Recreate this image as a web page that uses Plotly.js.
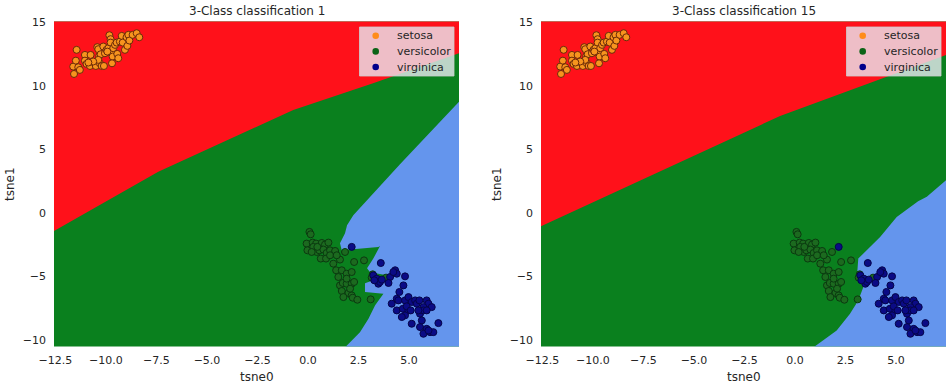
<!DOCTYPE html>
<html>
<head>
<meta charset="utf-8">
<script src="https://cdn.plot.ly/plotly-3.0.1.min.js"></script>
<style>html,body{margin:0;padding:0;background:#fff;}#chart{width:949px;height:389px;}</style>
</head>
<body>
<div id="chart"></div>
<script>
// ---------- data ----------
const classNames = ['setosa', 'versicolor', 'virginica'];
const plotTitles = ['3-Class classification 1', '3-Class classification 15'];
const xAxisLabel = 'tsne0';
const yAxisLabel = 'tsne1';
const xTickVals = [-12.5, -10, -7.5, -5, -2.5, 0, 2.5, 5];
const yTickVals = [-10, -5, 0, 5, 10, 15];
const xRange = [-12.57, 7.47];
const yRange = [-10.53, 15.05];

const setosaX = [-11.45,-11.62,-11.49,-11.37,-11.29,-11.58,-11.04,-11.04,-10.96,-10.76,-10.79,-10.59,-10.50,-10.43,-10.38,-10.33,-10.30,-10.26,-10.21,-10.13,-10.10,-10.05,-9.97,-9.88,-9.83,-9.77,-9.77,-9.72,-9.67,-9.70,-9.64,-9.55,-9.47,-9.44,-9.39,-9.31,-9.22,-9.17,-9.06,-8.98,-8.94,-8.89,-8.84,-8.68,-8.48,-8.35,-9.93,-10.38,-10.63,-10.87];
const setosaY = [12.82,11.50,11.97,11.45,11.24,10.92,12.42,11.97,11.71,12.42,11.55,11.82,11.55,13.03,12.87,12.34,11.76,12.47,11.55,13.08,11.55,12.55,12.82,12.95,13.97,13.66,13.39,12.55,12.29,11.76,12.95,13.21,13.39,12.50,12.16,13.47,13.92,13.39,12.82,13.81,13.13,14.00,13.55,14.00,14.13,13.81,12.68,12.03,11.90,11.82];

const versicolorX = [0.07,0.13,-0.07,0.23,0.40,0.68,0.84,1.01,-0.03,0.26,0.43,0.56,0.76,0.92,1.09,1.34,0.63,0.89,1.25,1.58,1.83,1.39,1.67,1.50,1.91,2.16,2.28,2.77,1.58,1.72,1.91,2.16,2.28,1.67,2.00,2.16,2.21,2.44,3.10,3.20,3.15,3.32,3.86,1.09,1.42,1.91,1.75,2.08,0.46,0.18];
const versicolorY = [-1.51,-1.70,-2.43,-2.35,-2.43,-2.38,-2.51,-2.35,-2.96,-2.69,-3.09,-2.96,-2.90,-3.17,-2.96,-3.01,-3.61,-3.61,-4.01,-3.69,-3.09,-4.53,-4.53,-5.06,-4.80,-4.67,-3.88,-3.75,-5.72,-5.53,-5.59,-5.59,-5.45,-6.16,-6.32,-6.51,-6.69,-6.85,-6.82,-4.85,-5.11,-5.27,-5.11,-3.35,-3.35,-5.19,-6.64,-5.98,-2.69,-3.09];

const virginicaX = [2.16,3.60,4.31,4.39,4.80,3.23,3.40,3.48,3.56,3.65,4.06,3.98,4.52,4.39,4.72,4.14,4.47,4.80,4.97,5.13,5.30,5.38,5.51,5.87,5.96,5.71,6.12,4.39,4.69,4.97,4.80,5.13,5.54,5.71,5.87,5.63,5.54,5.87,6.04,6.20,6.45,5.71,5.96,5.46,4.88,5.08,4.64,3.28,4.22];
const virginicaY = [-2.69,-3.96,-4.53,-4.80,-5.01,-4.93,-5.19,-5.59,-5.45,-5.27,-5.06,-5.53,-6.24,-6.77,-5.72,-7.16,-6.90,-6.90,-6.64,-7.03,-6.90,-7.16,-6.90,-6.90,-7.16,-7.43,-7.43,-7.69,-7.56,-7.69,-8.08,-8.74,-7.95,-7.69,-7.69,-8.48,-9.00,-9.14,-9.40,-9.40,-8.69,-9.53,-9.27,-7.69,-7.37,-7.69,-8.21,-5.32,-4.67];

// decision boundaries (k = 1 and k = 15)
const redEdgeX1 = [-12.57,-7.41,-0.73,3.22,7.47];
const redEdgeY1 = [-1.44,3.22,8.08,10.19,12.56];
const blueEdgeX1 = [7.47,4.55,2.24,1.93,1.83,1.58,1.67,3.48,3.56,3.23,2.92,3.07,3.90,3.15,2.82,2.82,3.73,3.32,2.99,2.57,2.08,1.83];
const blueEdgeY1 = [8.74,3.82,-0.20,-0.99,-1.62,-2.41,-2.96,-2.70,-2.62,-3.61,-4.38,-4.69,-4.93,-5.38,-5.56,-6.25,-6.37,-7.29,-8.34,-9.40,-10.19,-10.60];

const redEdgeX15 = [-12.57,-0.74,7.47];
const redEdgeY15 = [-1.06,7.61,12.42];
const blueEdgeX15 = [7.47,6.52,6.09,5.03,4.21,3.55,3.13,3.08,3.22,3.38,3.13,2.72,2.06,0.91];
const blueEdgeY15 = [2.56,1.25,0.91,-0.33,-1.91,-2.96,-3.61,-4.67,-5.32,-5.85,-6.90,-7.95,-9.27,-10.60];

// ---------- styles ----------
const regionColors = {red: '#FF111A', green: '#0A801E', blue: '#6495ED'};
const ptFill = ['#F7941E', '#1C6A1F', '#0B0B85'];
const ptEdge = ['#6A2A08', '#0B3A10', '#05054A'];
const legendDot = ['#FF8C1A', '#0B6316', '#00008B'];
const textColor = '#262626';
const FONT = 'DejaVu Sans, sans-serif';

const classX = [setosaX, versicolorX, virginicaX];
const classY = [setosaY, versicolorY, virginicaY];

function regionTraces(redX, redY, blueX, blueY, xa, ya) {
  const red = {
    type: 'scatter', mode: 'lines', xaxis: xa, yaxis: ya,
    x: [xRange[0]].concat(redX, [xRange[1], xRange[1], xRange[0]]),
    y: [redY[0]].concat(redY, [redY[redY.length-1], yRange[1] + 1, yRange[1] + 1]),
    fill: 'toself', fillcolor: regionColors.red, line: {width: 0},
    showlegend: false, hoverinfo: 'skip'
  };
  const blue = {
    type: 'scatter', mode: 'lines', xaxis: xa, yaxis: ya,
    x: blueX.concat([xRange[1], xRange[1]]),
    y: blueY.concat([yRange[0] - 1, blueY[0]]),
    fill: 'toself', fillcolor: regionColors.blue, line: {width: 0},
    showlegend: false, hoverinfo: 'skip'
  };
  return [red, blue];
}

function pointTraces(xa, ya) {
  return classNames.map((name, i) => ({
    type: 'scatter', mode: 'markers', xaxis: xa, yaxis: ya, name: name,
    x: classX[i], y: classY[i], showlegend: false,
    marker: {size: 7, color: ptFill[i], line: {width: 1, color: ptEdge[i]}},
    cliponaxis: true
  }));
}

const traces = []
  .concat(regionTraces(redEdgeX1, redEdgeY1, blueEdgeX1, blueEdgeY1, 'x', 'y'))
  .concat(pointTraces('x', 'y'))
  .concat(regionTraces(redEdgeX15, redEdgeY15, blueEdgeX15, blueEdgeY15, 'x2', 'y2'))
  .concat(pointTraces('x2', 'y2'));

const W = 949, H = 389;
const plotLeftPx = [54, 541];
const plotWidthPx = 405;
const doms = plotLeftPx.map(l => [l / W, (l + plotWidthPx) / W]);
const yDom = [(H - 346.5) / H, (H - 21.5) / H];

function xAxis(dom, anchor) {
  return {
    domain: dom, anchor: anchor, range: xRange, tickvals: xTickVals, tickformat: '.1f',
    showgrid: false, zeroline: false, showline: false, ticks: '',
    ticklabelstandoff: 5,
    tickfont: {family: FONT, size: 11, color: textColor},
    automargin: false, fixedrange: true
  };
}
function yAxis(anchor) {
  return {
    domain: yDom, anchor: anchor, range: yRange, tickvals: yTickVals,
    showgrid: false, zeroline: false, showline: false, ticks: '',
    ticklabelstandoff: 7,
    tickfont: {family: FONT, size: 11, color: textColor},
    automargin: false, fixedrange: true
  };
}

const px = v => v / W;
const py = v => (H - v) / H;

const annotations = [];
const shapes = [];
plotLeftPx.forEach((l, i) => {
  const cx = l + plotWidthPx / 2;
  annotations.push({text: plotTitles[i], xref: 'paper', yref: 'paper', x: px(cx), y: py(11),
    xanchor: 'center', yanchor: 'middle', showarrow: false,
    font: {family: FONT, size: 12, color: textColor}});
  annotations.push({text: xAxisLabel, xref: 'paper', yref: 'paper', x: px(cx), y: py(377),
    xanchor: 'center', yanchor: 'middle', showarrow: false,
    font: {family: FONT, size: 12, color: textColor}});
  annotations.push({text: yAxisLabel, xref: 'paper', yref: 'paper', x: px(l - 44), y: py(184),
    xanchor: 'center', yanchor: 'middle', showarrow: false, textangle: -90,
    font: {family: FONT, size: 12, color: textColor}});
  // legend box
  const bx0 = l + 305.5, bx1 = l + 400, by0 = 27, by1 = 76;
  shapes.push({type: 'rect', xref: 'paper', yref: 'paper', x0: px(bx0), x1: px(bx1), y0: py(by1), y1: py(by0),
    fillcolor: 'rgba(234,234,242,0.8)', line: {width: 1, color: 'rgba(204,204,204,0.8)'}});
  classNames.forEach((name, k) => {
    const yy = 35.8 + k * 15.6;
    const mx = l + 321.7;
    shapes.push({type: 'circle', xref: 'paper', yref: 'paper',
      x0: px(mx - 3.3), x1: px(mx + 3.3), y0: py(yy + 3.3), y1: py(yy - 3.3),
      fillcolor: legendDot[k], line: {width: 0}});
    annotations.push({text: name, xref: 'paper', yref: 'paper', x: px(l + 340.5), y: py(yy),
      xanchor: 'left', yanchor: 'middle', showarrow: false,
      font: {family: FONT, size: 11, color: textColor}});
  });
});

const layout = {
  width: W, height: H,
  margin: {l: 0, r: 0, t: 0, b: 0},
  paper_bgcolor: '#ffffff',
  plot_bgcolor: regionColors.green,
  font: {family: FONT, color: textColor},
  showlegend: false,
  xaxis: xAxis(doms[0], 'y'),
  yaxis: yAxis('x'),
  xaxis2: xAxis(doms[1], 'y2'),
  yaxis2: yAxis('x2'),
  annotations: annotations,
  shapes: shapes
};

Plotly.newPlot('chart', traces, layout, {displayModeBar: false, staticPlot: true});
</script>
</body>
</html>
